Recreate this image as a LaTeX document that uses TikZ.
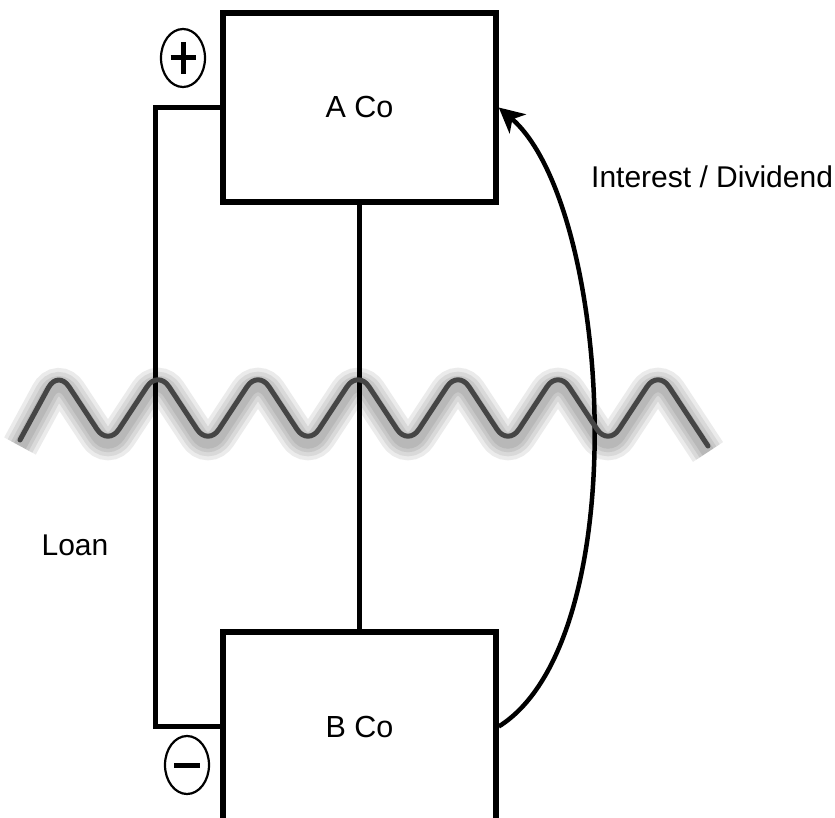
\documentclass[tikz,border=0pt]{standalone}
\usepackage{fontspec}
\setmainfont{Liberation Sans}
\usetikzlibrary{
  arrows.meta,
  shapes.geometric
}
\definecolor{wavedark}{HTML}{454545}

\begin{document}
\begin{tikzpicture}[
      x=1pt, y=-1pt,
      company/.style={
        rectangle, draw=black, line width=5.5pt, fill=white,
        minimum width=273pt, minimum height=189pt,
        font=\fontsize{30.5}{36}\selectfont
      },
      sign/.style={
        ellipse, draw=black, line width=2.2pt,
        minimum width=44pt, minimum height=58pt, inner sep=0pt
      },
      bar/.style={line width=5pt},
      link/.style={line width=5pt},
      flow/.style={-{Stealth[length=25pt, width=25pt, inset=7pt]}, line width=4.5pt},
      label/.style={font=\fontsize{30}{36}\selectfont, inner sep=0pt}
    ]
      \useasboundingbox (0,0) rectangle (835,818);

      % Companies
      \node[company] (aco) at (359.5,107.5) {A Co};
      \node[company] (bco) at (359.5,726.5) {B Co};

      % Ownership line
      \draw[link] (aco.south) -- (bco.north);

      % Loan
      \draw[link] (aco.west) -- ++(-65,0) |- (bco.west);
      \node[label] (loan) at (75,545) {Loan};

      % Plus / minus
      \node[sign] (plus) at (183,58) {};
      \draw[bar] ([xshift=-12.5pt]plus.center) -- ([xshift=12.5pt]plus.center);
      \draw[bar] ([yshift=-16pt]plus.center) -- ([yshift=16pt]plus.center);
      \node[sign] (minus) at (187,765) {};
      \draw[bar] ([xshift=-13pt]minus.center) -- ([xshift=13pt]minus.center);

      % Interest / Dividend
      \draw[flow] (bco.east) .. controls (637,640) and (612,205) .. (aco.east);
      \node[label, anchor=west] (interest) at (591,177) {Interest / Dividend};

      % Wave
      \foreach \w in {36,28,20,13} {
        \draw[line width=\w pt, black, opacity=0.08, rounded corners=20pt, yshift=-6pt]
          (20,440) \foreach \k in {0,...,6} { -- ({58+100*\k},370) -- ({108+100*\k},446) };
      }
      \draw[line width=5pt, wavedark, line cap=round, rounded corners=20pt]
        (20,440) \foreach \k in {0,...,6} { -- ({58+100*\k},370) -- ({108+100*\k},446) };
    \end{tikzpicture}
\end{document}
